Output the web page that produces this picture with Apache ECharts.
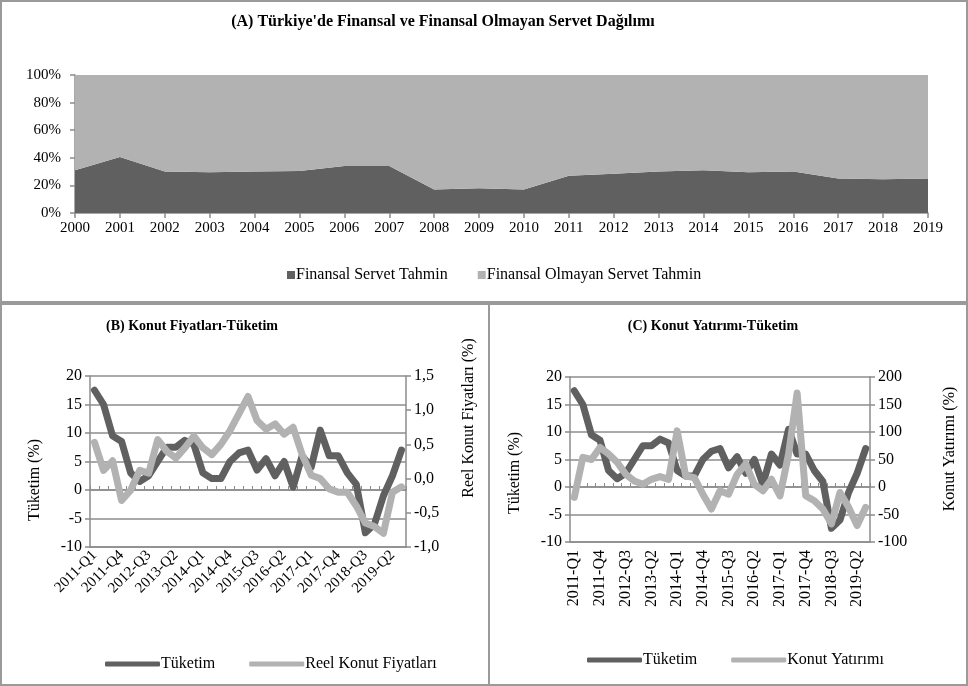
<!DOCTYPE html>
<html>
<head>
<meta charset="utf-8">
<script src="https://cdn.jsdelivr.net/npm/echarts@6/dist/echarts.min.js"></script>
<style>
  html, body { margin: 0; padding: 0; background: #ffffff; }
  #chart { width: 968px; height: 686px; }
</style>
</head>
<body>
<div id="chart"></div>
<script>
// Panel A: yearly wealth split (percent of total)
const years = ['2000','2001','2002','2003','2004','2005','2006','2007','2008','2009',
               '2010','2011','2012','2013','2014','2015','2016','2017','2018','2019'];
const finansalServet = [31, 40.5, 30, 29.5, 30, 30.5, 34, 34, 17, 18,
                        17, 27, 28.5, 30, 31, 29.5, 30, 25, 24.5, 25];
const finansalOlmayanServet = [69, 59.5, 70, 70.5, 70, 69.5, 66, 66, 83, 82,
                               83, 73, 71.5, 70, 69, 70.5, 70, 75, 75.5, 75];

// Panels B and C: quarterly series
const quarters = ['2011-Q1','2011-Q2','2011-Q3','2011-Q4','2012-Q1','2012-Q2','2012-Q3','2012-Q4',
                  '2013-Q1','2013-Q2','2013-Q3','2013-Q4','2014-Q1','2014-Q2','2014-Q3','2014-Q4',
                  '2015-Q1','2015-Q2','2015-Q3','2015-Q4','2016-Q1','2016-Q2','2016-Q3','2016-Q4',
                  '2017-Q1','2017-Q2','2017-Q3','2017-Q4','2018-Q1','2018-Q2','2018-Q3','2018-Q4',
                  '2019-Q1','2019-Q2','2019-Q3'];
const tuketim = [17.5, 15, 9.5, 8.5, 3, 1.5, 2.5, 5, 7.5, 7.5, 8.7, 8, 3, 2, 2, 5, 6.5, 7,
                 3.5, 5.5, 2.5, 5, 0.5, 6, 4, 10.5, 6, 6, 3, 1, -7.5, -6, -1, 2.5, 7];
const reelKonutFiyatlari = [0.53, 0.12, 0.26, -0.32, -0.17, 0.12, 0.08, 0.57, 0.4, 0.3, 0.45, 0.62,
                            0.45, 0.35, 0.5, 0.7, 0.95, 1.2, 0.85, 0.72, 0.8, 0.65, 0.75, 0.35,
                            0.05, 0, -0.15, -0.2, -0.2, -0.4, -0.65, -0.7, -0.8, -0.2, -0.12];
const konutYatirimi = [-19, 54, 50, 72, 60, 45, 23, 11, 5, 14, 19, 14, 102, 20, 17, -13, -40, -7,
                       -13, 23, 42, 5, -7, 14, -16, 60, 171, -16, -25, -40, -67, -10, -37, -70, -37];

const FONT = "'Liberation Serif', 'Times New Roman', serif";
const DARK = '#606060';
const LIGHT = '#b2b2b2';
const AXIS = '#8c8c8c';
const LINE_W = 7;

const commaFmt = v => v.toFixed(1).replace('.', ',');
const txt = (size, extra) => Object.assign({ color: '#000', fontFamily: FONT, fontSize: size }, extra || {});

function valueAxis(grid, min, max, interval, pos, gridLines, fmt) {
  return {
    gridIndex: grid, type: 'value', min: min, max: max, interval: interval, position: pos,
    axisLine: { show: true, lineStyle: { color: AXIS, width: 1.5 } },
    axisTick: { show: true, length: 5, lineStyle: { color: AXIS, width: 1.5 } },
    splitLine: { show: gridLines, lineStyle: { color: AXIS, width: 1.5 } },
    axisLabel: Object.assign(txt(16), { margin: 8, formatter: fmt })
  };
}

function quarterLine(name, xIdx, yIdx, data, color) {
  return { name: name, type: 'line', xAxisIndex: xIdx, yAxisIndex: yIdx, data: data,
    symbol: 'none', color: color,
    lineStyle: { width: LINE_W, color: color, cap: 'round', join: 'round' } };
}

function axisTitle(text, x, y) {
  return { type: 'text', x: x, y: y, rotation: Math.PI / 2, silent: true,
    style: { text: text, align: 'center', verticalAlign: 'middle',
      fill: '#000', font: "16px 'Liberation Serif', serif" } };
}

const chart = echarts.init(document.getElementById('chart'), null, { renderer: 'canvas' });

chart.setOption({
  backgroundColor: '#ffffff',
  animation: false,
  title: [
    { text: "(A) Türkiye'de Finansal ve Finansal Olmayan Servet Dağılımı", left: 438, top: 9,
      textAlign: 'center', textStyle: txt(16, { fontWeight: 'bold' }) },
    { text: '(B) Konut Fiyatları-Tüketim', left: 187, top: 314,
      textAlign: 'center', textStyle: txt(14, { fontWeight: 'bold' }) },
    { text: '(C) Konut Yatırımı-Tüketim', left: 708, top: 314,
      textAlign: 'center', textStyle: txt(14, { fontWeight: 'bold' }) }
  ],
  legend: [
    { data: ['Finansal Servet Tahmin', 'Finansal Olmayan Servet Tahmin'],
      left: 282, top: 262, icon: 'rect', itemWidth: 8, itemHeight: 8, itemGap: 30,
      textStyle: txt(16, { padding: [0, 0, 0, -4] }) },
    { data: ['Tüketim', 'Reel Konut Fiyatları'],
      left: 100, top: 651, icon: 'roundRect', itemWidth: 55, itemHeight: 5, itemGap: 34,
      textStyle: txt(16, { padding: [0, 0, 0, -4] }) },
    { data: ['Tüketim', 'Konut Yatırımı'],
      left: 582, top: 647, icon: 'roundRect', itemWidth: 55, itemHeight: 5, itemGap: 34,
      textStyle: txt(16, { padding: [0, 0, 0, -4] }) }
  ],
  grid: [
    { left: 75, top: 75, width: 853, height: 138 },
    { left: 90, top: 376, width: 316, height: 171 },
    { left: 570, top: 377, width: 300, height: 165 }
  ],
  xAxis: [
    { gridIndex: 0, type: 'category', data: years, boundaryGap: false,
      axisLine: { lineStyle: { color: AXIS, width: 1.5 } },
      axisTick: { show: true, length: 5, lineStyle: { color: AXIS, width: 1.5 } },
      axisLabel: Object.assign(txt(15), { margin: 8, interval: 0 }) },
    // panel B: labels along the bottom edge
    { gridIndex: 1, type: 'category', data: quarters,
      axisLine: { onZero: false, lineStyle: { color: AXIS, width: 1.5 } },
      axisTick: { show: false },
      axisLabel: Object.assign(txt(15), { interval: 2, rotate: 45, margin: 6 }) },
    // panel B: tick marks on the zero line
    { gridIndex: 1, type: 'category', data: quarters,
      axisLine: { onZero: true, onZeroAxisIndex: 1, lineStyle: { color: AXIS, width: 1.5 } },
      axisTick: { show: true, interval: 0, length: 4, lineStyle: { color: AXIS, width: 1 } },
      axisLabel: { show: false } },
    // panel C: labels along the bottom edge
    { gridIndex: 2, type: 'category', data: quarters,
      axisLine: { onZero: false, lineStyle: { color: AXIS, width: 1.5 } },
      axisTick: { show: false },
      axisLabel: Object.assign(txt(16), { interval: 2, rotate: 90, margin: 8 }) },
    // panel C: tick marks on the zero line
    { gridIndex: 2, type: 'category', data: quarters,
      axisLine: { onZero: true, onZeroAxisIndex: 3, lineStyle: { color: AXIS, width: 1.5 } },
      axisTick: { show: true, interval: 0, length: 4, lineStyle: { color: AXIS, width: 1 } },
      axisLabel: { show: false } }
  ],
  yAxis: [
    Object.assign(valueAxis(0, 0, 100, 20, 'left', false),
      { axisLabel: Object.assign(txt(15), { margin: 14, formatter: '{value}%' }) }),
    valueAxis(1, -10, 20, 5, 'left', true),
    valueAxis(1, -1, 1.5, 0.5, 'right', false, commaFmt),
    valueAxis(2, -10, 20, 5, 'left', true),
    valueAxis(2, -100, 200, 50, 'right', false)
  ],
  series: [
    { name: 'Finansal Servet Tahmin', type: 'line', xAxisIndex: 0, yAxisIndex: 0, stack: 'servet',
      data: finansalServet, symbol: 'none', color: DARK,
      lineStyle: { width: 0 }, areaStyle: { color: DARK, opacity: 1 } },
    { name: 'Finansal Olmayan Servet Tahmin', type: 'line', xAxisIndex: 0, yAxisIndex: 0, stack: 'servet',
      data: finansalOlmayanServet, symbol: 'none', color: LIGHT,
      lineStyle: { width: 0 }, areaStyle: { color: LIGHT, opacity: 1 } },

    quarterLine('Tüketim', 1, 1, tuketim, DARK),
    quarterLine('Reel Konut Fiyatları', 1, 2, reelKonutFiyatlari, LIGHT),

    quarterLine('Tüketim', 3, 3, tuketim, DARK),
    quarterLine('Konut Yatırımı', 3, 4, konutYatirimi, LIGHT)
  ],
  graphic: [
    // panel frames
    { type: 'rect', shape: { x: 1, y: 1, width: 966, height: 301 }, silent: true,
      style: { fill: null, stroke: '#9a9a9a', lineWidth: 2 } },
    { type: 'rect', shape: { x: 1, y: 304, width: 488, height: 381 }, silent: true,
      style: { fill: null, stroke: '#9a9a9a', lineWidth: 2 } },
    { type: 'rect', shape: { x: 489, y: 304, width: 478, height: 381 }, silent: true,
      style: { fill: null, stroke: '#9a9a9a', lineWidth: 2 } },
    // axis titles
    axisTitle('Tüketim (%)', 35, 480),
    axisTitle('Reel Konut Fiyatları (%)', 469, 418),
    axisTitle('Tüketim (%)', 515, 473),
    axisTitle('Konut Yatırımı (%)', 950, 449)
  ]
});
</script>
</body>
</html>
